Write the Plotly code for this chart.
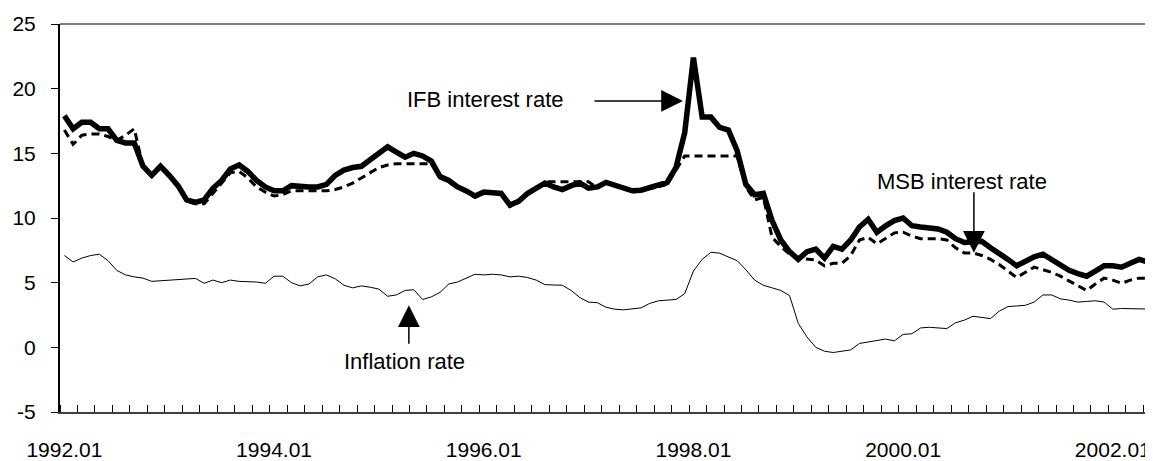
import plotly.graph_objects as go

# Monthly series, 1992.01 .. 2002.06
ifb_rate = [17.9, 16.9, 17.4, 17.4, 16.9, 16.9, 16.0, 15.8, 15.8, 14.0, 13.3, 14.0,
            13.3, 12.5, 11.4, 11.2, 11.4, 12.3, 12.9, 13.8, 14.1, 13.6, 12.9, 12.4,
            12.1, 12.1, 12.5, 12.4, 12.4, 12.4, 12.6, 13.3, 13.7, 13.9, 14.0, 14.5,
            15.0, 15.5, 15.1, 14.7, 15.0, 14.8, 14.4, 13.2, 12.9, 12.4, 12.1, 11.7,
            12.0, 12.0, 11.9, 11.0, 11.3, 11.9, 12.3, 12.7, 12.4, 12.2, 12.5, 12.7,
            12.3, 12.4, 12.75, 12.55, 12.4, 12.1, 12.15, 12.35, 12.55, 12.75, 13.9, 16.6,
            22.4, 17.8, 17.8, 17.0, 16.8, 15.2, 12.6, 11.8, 11.9, 9.8, 8.3, 7.4,
            6.8, 7.4, 7.6, 6.9, 7.8, 7.6, 8.3, 9.3, 9.9, 8.9, 9.4, 9.8,
            10.0, 9.4, 9.3, 9.2, 9.15, 8.9, 8.4, 8.1, 8.1, 8.2, 7.7, 7.3,
            6.8, 6.3, 6.7, 7.0, 7.2, 6.8, 6.3, 5.95, 5.7, 5.5, 5.9, 6.3,
            6.3, 6.2, 6.5, 6.8, 6.6, 6.4]

msb_rate = [16.8, 15.7, 16.4, 16.5, 16.5, 16.3, 16.0, 16.4, 16.9, 14.0, 13.3, 13.9,
            13.2, 12.4, 11.3, 11.1, 11.1, 11.9, 12.7, 13.5, 13.6, 13.1, 12.4, 12.0,
            11.7, 11.8, 12.1, 12.1, 12.1, 12.1, 12.1, 12.2, 12.4, 12.7, 13.1, 13.5,
            13.9, 14.1, 14.2, 14.2, 14.2, 14.2, 14.2, 13.1, 12.8, 12.3, 12.0, 11.6,
            11.9, 11.9, 11.8, 10.9, 11.2, 11.8, 12.2, 12.8, 12.8, 12.8, 12.8, 12.8,
            12.8, 12.3, 12.7, 12.5, 12.3, 12.0, 12.1, 12.3, 12.4, 12.6, 13.7, 14.8,
            14.8, 14.8, 14.8, 14.8, 14.8, 14.8, 12.4, 11.4, 11.6, 8.5, 7.8, 7.2,
            6.9, 6.8, 6.75, 6.3, 6.5, 6.5, 7.1, 8.3, 8.5, 8.0, 8.4, 8.85,
            8.9, 8.6, 8.4, 8.4, 8.4, 8.3, 7.7, 7.3, 7.3, 7.1, 6.8, 6.4,
            5.9, 5.4, 5.8, 6.2, 6.0, 5.8, 5.5, 5.15, 4.8, 4.4, 4.9, 5.35,
            5.2, 4.95, 5.2, 5.35, 5.35, 5.35]

inflation = [7.1, 6.6, 6.9, 7.1, 7.2, 6.7, 5.95, 5.6, 5.45, 5.35, 5.1, 5.15,
             5.2, 5.25, 5.3, 5.33, 4.95, 5.2, 5.0, 5.2, 5.1, 5.1, 5.05, 4.95,
             5.5, 5.5, 5.0, 4.75, 4.9, 5.45, 5.6, 5.3, 4.8, 4.6, 4.75, 4.65,
             4.5, 3.95, 4.05, 4.4, 4.45, 3.7, 3.9, 4.25, 4.9, 5.05, 5.35, 5.65,
             5.6, 5.65, 5.6, 5.45, 5.5, 5.4, 5.2, 4.85, 4.82, 4.8, 4.4, 3.85,
             3.5, 3.45, 3.1, 2.95, 2.9, 2.95, 3.05, 3.4, 3.6, 3.65, 3.7, 4.15,
             5.9, 6.8, 7.35, 7.28, 7.0, 6.7, 6.0, 5.2, 4.8, 4.6, 4.4, 4.0,
             1.85, 0.8, 0.0, -0.3, -0.4, -0.3, -0.2, 0.3, 0.4, 0.5, 0.64, 0.5,
             1.0, 1.05, 1.5, 1.55, 1.5, 1.45, 1.9, 2.1, 2.4, 2.3, 2.22, 2.8,
             3.15, 3.2, 3.25, 3.5, 4.05, 4.05, 3.75, 3.65, 3.5, 3.55, 3.6, 3.5,
             2.95, 3.0, 3.0, 2.98, 2.96, 2.95]

tick_months = [0, 24, 48, 72, 96, 120]
tick_labels = ["1992.01", "1994.01", "1996.01", "1998.01", "2000.01", "2002.01"]
y_ticks = [-5, 0, 5, 10, 15, 20, 25]
y_labels = ["-5", "0", "5", "10", "15", "20", "25"]

months = list(range(len(ifb_rate)))

FONT = "Liberation Sans, Arial, sans-serif"

fig = go.Figure()
fig.add_trace(go.Scatter(x=months, y=inflation, mode="lines",
                         line=dict(color="black", width=1), showlegend=False))
fig.add_trace(go.Scatter(x=months, y=msb_rate, mode="lines",
                         line=dict(color="black", width=3, dash="8px,5px"), showlegend=False))
fig.add_trace(go.Scatter(x=months, y=ifb_rate, mode="lines",
                         line=dict(color="black", width=5.5), showlegend=False))

ann_font = dict(family=FONT, size=22, color="black")
arrow = dict(showarrow=True, arrowhead=2, arrowsize=2.9, arrowwidth=1.5,
             arrowcolor="black", text="", xref="x", yref="y", axref="pixel", ayref="pixel")
fig.update_layout(
    annotations=[
        dict(x=48.2, y=19.18, text="IFB interest rate", showarrow=False, font=ann_font),
        dict(x=102.7, y=12.83, text="MSB interest rate", showarrow=False, font=ann_font),
        dict(x=38.97, y=-1.09, text="Inflation rate", showarrow=False, font=ann_font),
        dict(x=70.8, y=19.05, ax=-90, ay=0, **arrow),
        dict(x=104.1, y=7.32, ax=0, ay=-62, **arrow),
        dict(x=39.43, y=3.26, ax=0, ay=40, **arrow),
    ],
    shapes=[dict(type="line", xref="paper", yref="paper", x0=0, x1=1, y0=1, y1=1,
                 line=dict(color="#808080", width=2))],
)

# the page body has an 8px margin, so the figure is 8px smaller and margins shifted
fig.update_layout(
    width=1145, height=453,
    margin=dict(l=52, r=0, t=16, b=44),
    plot_bgcolor="white", paper_bgcolor="white",
    font=dict(family=FONT, color="black", size=21),
    xaxis=dict(range=[-0.5, 124.6], tickvals=tick_months, ticktext=tick_labels,
               ticks="", showgrid=False, zeroline=False, showline=True,
               linecolor="#404040", linewidth=2, ticklabelstandoff=18,
               tickfont=dict(size=21),
               minor=dict(tick0=-0.5, dtick=2, ticks="inside", ticklen=7,
                          tickcolor="black", tickwidth=1, showgrid=False)),
    yaxis=dict(range=[-5, 25], tickvals=y_ticks, ticktext=y_labels,
               ticks="outside", ticklen=7,
               tickcolor="black", tickwidth=1, showgrid=False, zeroline=False,
               showline=True, linecolor="black", linewidth=2,
               ticklabelstandoff=11, tickfont=dict(size=21)),
    yaxis2=dict(range=[-5, 25], tickvals=y_ticks, ticks="inside", ticklen=7,
                tickcolor="black", tickwidth=1, showticklabels=False,
                showgrid=False, zeroline=False, showline=False,
                overlaying="y", side="left", anchor="x"),
)

fig.write_html("out.html")
